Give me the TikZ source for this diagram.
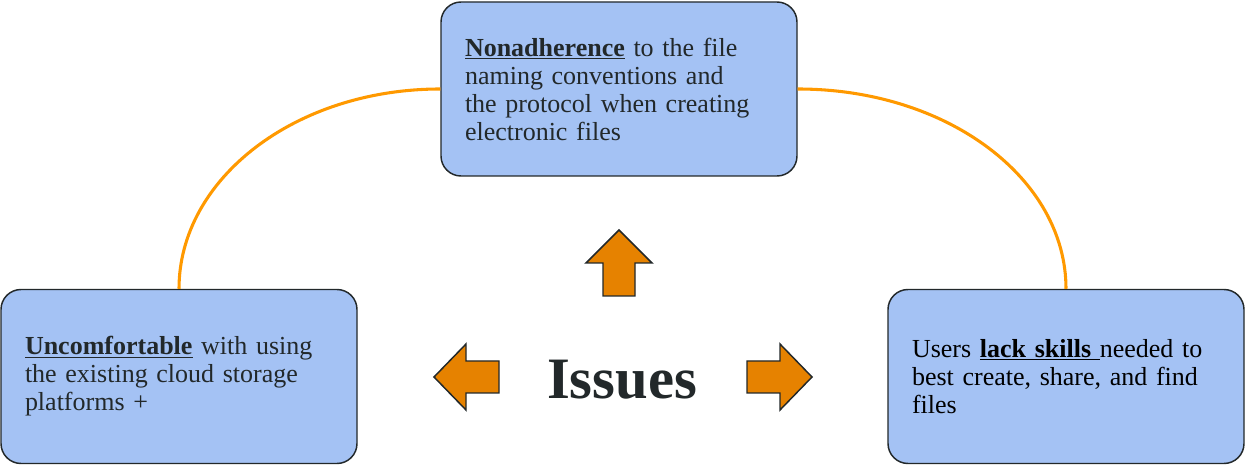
\documentclass[tikz,border=0pt]{standalone}
\usepackage{fontspec}
\setmainfont{Liberation Serif}
\usetikzlibrary{positioning, calc}
\definecolor{colBox}{RGB}{164,194,244}
\definecolor{colBorder}{RGB}{34,40,42}
\definecolor{colArc}{RGB}{255,153,0}
\definecolor{colArrow}{RGB}{230,130,0}
\definecolor{colText}{RGB}{34,40,42}
\tikzset{
  issueBox/.style={
    rectangle, rounded corners=15pt,
    draw=colBorder, line width=1.1pt, fill=colBox,
    minimum width=267pt, minimum height=130.5pt,
    text width=231pt, inner xsep=18pt, align=left,
    font=\fontsize{19.5}{21}\selectfont, text=colText
  },
  link/.style={draw=colArc, line width=2.3pt},
  blockArr/.style={draw=colBorder, line width=1.1pt, fill=colArrow, line join=miter}
}

\begin{document}
\begin{tikzpicture}[x=0.75pt, y=-0.75pt]
  \useasboundingbox (0,0) rectangle (1246,466);

  \node[issueBox] (top) at (619,89) {\underline{\textbf{Nonadherence}} to the file\\naming conventions and\\the protocol when creating\\electronic files};
  \node[issueBox] (left) at (179,376.5) {\underline{\textbf{Uncomfortable}} with using\\the existing cloud storage\\platforms +};
  \node[issueBox, text=black] (right) at (1066,376.5) {Users \underline{\textbf{lack skills\ }}needed to\\best create, share, and find\\files};

  \node[font=\fontsize{44}{50}\selectfont\bfseries, text=colText] (issues) at (622,380) {Issues};

  % links between the issues
  \draw[link] (top.west) .. controls +(-145,0) and +(0,-110) .. (left.north);
  \draw[link] (top.east) .. controls +(150,0) and +(0,-110) .. (right.north);

  % block arrows
  \draw[blockArr] (619,230) -- (652,263) -- (635,263) -- (635,296) -- (603,296) -- (603,263) -- (586,263) -- cycle;
  \draw[blockArr] (434,377) -- (466,344) -- (466,361) -- (499,361) -- (499,393) -- (466,393) -- (466,410) -- cycle;
  \draw[blockArr] (812,377) -- (780,344) -- (780,361) -- (747,361) -- (747,393) -- (780,393) -- (780,410) -- cycle;

\end{tikzpicture}
\end{document}
